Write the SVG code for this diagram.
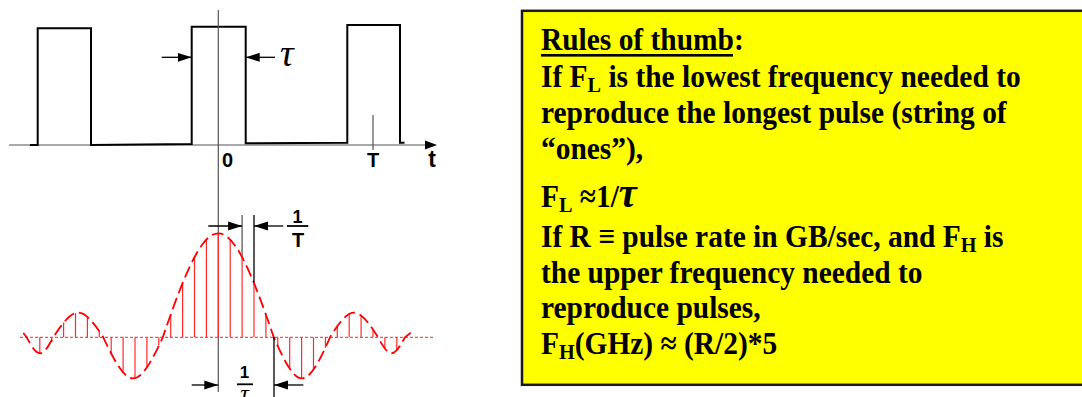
<svg xmlns="http://www.w3.org/2000/svg" width="1082" height="397" viewBox="0 0 1082 397">
<defs>
<marker id="ah" markerUnits="userSpaceOnUse" markerWidth="14" markerHeight="10" refX="14" refY="5" orient="auto">
<path d="M0,0.5 L14,5 L0,9.5 z" fill="#000"/>
</marker>
<style>
.axis{stroke:#555;stroke-width:1.2;fill:none}
.pulse{stroke:#000;stroke-width:2;fill:none;stroke-linejoin:miter}
.dim{stroke:#000;stroke-width:1.3;fill:none}
.ext{stroke:#666;stroke-width:1.4;fill:none}
.curve{stroke:#ff0000;stroke-width:1.8;fill:none;stroke-dasharray:12 5}
.zero{stroke:#ff5050;stroke-width:1.3;fill:none;stroke-dasharray:3 2}
.spec{stroke:#ff2a2a;stroke-width:1.2}
.lbl{font-family:"Liberation Sans",Arial,sans-serif;font-weight:bold;fill:#000}
.tau{font-family:"Liberation Serif","Times New Roman",serif;font-style:italic;fill:#000}
.rule{font-family:"Liberation Serif","Times New Roman",serif;font-weight:bold;font-size:32px;fill:#000}
</style>
</defs>
<rect width="1082" height="397" fill="#fff"/>

<g id="pulse-train">
<line class="axis" x1="9" y1="145" x2="426" y2="145"/>
<path d="M425,140.5 L437,145 L425,149.5 z" fill="#000"/>
<path class="pulse" d="M30,145 L37.7,145 L37.7,28.3 L91,28.3 L91,145 L191.7,144 L191.7,26.7 L245.7,26.7 L245.7,143.3 L347.3,142.7 L347.3,25 L400,25 L400,142.7 L404.5,142.7"/>
<line class="axis" x1="373" y1="115" x2="373" y2="150"/>
<text class="lbl" x="222" y="166.5" font-size="20">0</text>
<text class="lbl" x="373" y="166.5" font-size="20" text-anchor="middle">T</text>
<text class="lbl" x="432" y="166.5" font-size="23" text-anchor="middle">t</text>
<text class="tau" x="280" y="66" font-size="38">τ</text>
</g>

<g id="vertical-axis">
<line class="axis" x1="218.3" y1="10" x2="218.3" y2="392"/>
</g>

<g id="spectrum">
<line class="zero" x1="20" y1="337.3" x2="433" y2="337.3"/>
<g class="spec">
<line x1="39.8" y1="337.3" x2="39.8" y2="353.3"/>
<line x1="51.7" y1="337.3" x2="51.7" y2="342"/>
<line x1="63.6" y1="337.3" x2="63.6" y2="322.5"/>
<line x1="75.5" y1="337.3" x2="75.5" y2="313.1"/>
<line x1="87.4" y1="337.3" x2="87.4" y2="316.6"/>
<line x1="99.3" y1="337.3" x2="99.3" y2="331.2"/>
<line x1="111.2" y1="337.3" x2="111.2" y2="354"/>
<line x1="123.1" y1="337.3" x2="123.1" y2="372.9"/>
<line x1="135" y1="337.3" x2="135" y2="378"/>
<line x1="146.9" y1="337.3" x2="146.9" y2="367.3"/>
<line x1="158.8" y1="337.3" x2="158.8" y2="344.9"/>
<line x1="170.7" y1="337.3" x2="170.7" y2="314.2"/>
<line x1="182.6" y1="337.3" x2="182.6" y2="282"/>
<line x1="194.5" y1="337.3" x2="194.5" y2="256"/>
<line x1="206.4" y1="337.3" x2="206.4" y2="239.1"/>
<line x1="218.3" y1="337.3" x2="218.3" y2="233.3"/>
<line x1="230.2" y1="337.3" x2="230.2" y2="239.1"/>
<line x1="242.1" y1="337.3" x2="242.1" y2="256"/>
<line x1="254" y1="337.3" x2="254" y2="282.1"/>
<line x1="265.9" y1="337.3" x2="265.9" y2="314.3"/>
<line x1="277.8" y1="337.3" x2="277.8" y2="346.4"/>
<line x1="289.7" y1="337.3" x2="289.7" y2="369.1"/>
<line x1="301.6" y1="337.3" x2="301.6" y2="378.3"/>
<line x1="313.5" y1="337.3" x2="313.5" y2="369.9"/>
<line x1="325.4" y1="337.3" x2="325.4" y2="347.8"/>
<line x1="337.3" y1="337.3" x2="337.3" y2="326"/>
<line x1="349.2" y1="337.3" x2="349.2" y2="313.9"/>
<line x1="361.1" y1="337.3" x2="361.1" y2="315.3"/>
<line x1="373" y1="337.3" x2="373" y2="329.4"/>
<line x1="384.9" y1="337.3" x2="384.9" y2="348.8"/>
<line x1="396.8" y1="337.3" x2="396.8" y2="350.4"/>
</g>
<path class="curve" d="M23.3,333 L26.7,337.3 C38,358.6 42,358.6 53.3,337.3 C74.5,304.5 82.1,304.5 103.3,337.3 C128.6,392 137.6,392 162.8,337.3 C209.9,198.6 226.7,198.6 273.8,337.3 C297.7,392 306.2,392 330,337.3 C350.4,304.5 357.6,304.5 378,337.3 C389.5,358.6 393.5,358.6 405,337.3 L412,331.7"/>
</g>

<g id="dimension-arrows">
<line class="dim" x1="161.7" y1="57.3" x2="191.7" y2="57.3" marker-end="url(#ah)"/>
<line class="dim" x1="275" y1="57.3" x2="245.7" y2="57.3" marker-end="url(#ah)"/>
<line class="ext" x1="242.1" y1="215" x2="242.1" y2="256"/>
<line class="dim" x1="254" y1="215" x2="254" y2="282"/>
<line class="dim" x1="208.3" y1="226" x2="242.1" y2="226" marker-end="url(#ah)"/>
<line class="dim" x1="283.3" y1="226" x2="254" y2="226" marker-end="url(#ah)"/>
<line class="dim" x1="274" y1="337" x2="274" y2="397"/>
<line class="dim" x1="191.7" y1="385" x2="218.3" y2="385" marker-end="url(#ah)"/>
<line class="dim" x1="303.3" y1="385" x2="274" y2="385" marker-end="url(#ah)"/>
</g>

<g id="label-1-over-T">
<text class="lbl" x="297.5" y="223.3" font-size="18" text-anchor="middle">1</text>
<line x1="287" y1="226" x2="308.3" y2="226" stroke="#000" stroke-width="1.8"/>
<text class="lbl" x="298" y="246.7" font-size="20" text-anchor="middle">T</text>
</g>

<g id="label-1-over-tau">
<text class="lbl" x="244.5" y="378.3" font-size="17" text-anchor="middle">1</text>
<line x1="237" y1="384.3" x2="253" y2="384.3" stroke="#000" stroke-width="1.8"/>
<text class="tau" x="244.5" y="401" font-size="24" text-anchor="middle">τ</text>
</g>

<g id="rules-box">
<rect x="522" y="10.8" width="580" height="374" fill="#ffff00" stroke="#1a1a1a" stroke-width="2.5"/>
<rect x="541" y="54" width="192" height="2.6" fill="#000"/>
<g transform="translate(541,0) scale(0.92,1) translate(-541,0)">
<text class="rule" x="541" y="50">Rules of thumb:</text>
<text class="rule" x="541" y="87">If F<tspan font-size="22" dy="4.7">L</tspan><tspan dy="-4.7"> is the lowest frequency needed to</tspan></text>
<text class="rule" x="541" y="123.3">reproduce the longest pulse (string of</text>
<text class="rule" x="541" y="159.5">“ones”),</text>
<text class="rule" x="541" y="207">F<tspan font-size="22" dy="4.7">L</tspan><tspan dy="-4.7"> ≈1/</tspan><tspan font-style="italic" font-size="44">τ</tspan></text>
<text class="rule" x="541" y="247.3">If R ≡ pulse rate in GB/sec, and F<tspan font-size="22" dy="4.7">H</tspan><tspan dy="-4.7"> is</tspan></text>
<text class="rule" x="541" y="283.3">the upper frequency needed to</text>
<text class="rule" x="541" y="318.5">reproduce pulses,</text>
<text class="rule" x="541" y="354.5">F<tspan font-size="22" dy="4.7">H</tspan><tspan dy="-4.7">(GHz) ≈ (R/2)*5</tspan></text>
</g>
</g>
</svg>
